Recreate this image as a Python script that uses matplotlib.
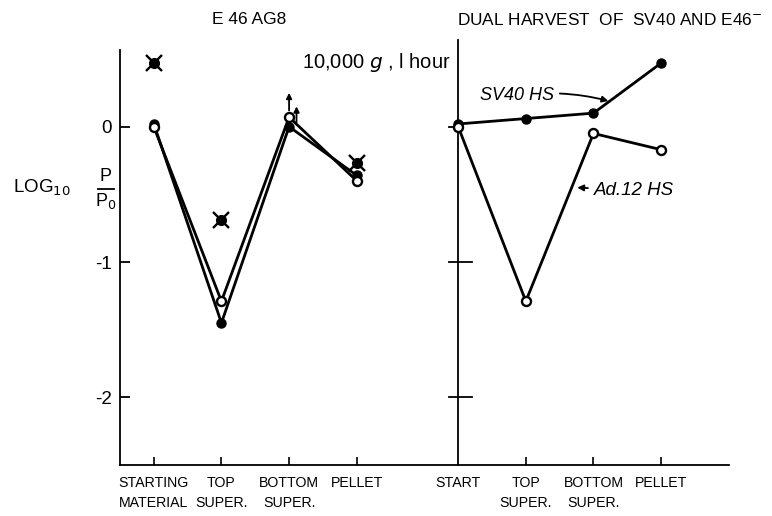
import matplotlib
matplotlib.use("Agg")
import matplotlib.pyplot as plt

# ---- data ----
left_x = [1, 2, 3, 4]
left_labels = ["STARTING\nMATERIAL", "TOP\nSUPER.", "BOTTOM\nSUPER.", "PELLET"]
left_filled = [0.02, -1.45, 0.00, -0.36]
left_open = [0.00, -1.29, 0.07, -0.40]
left_x_marks = [0.47, -0.69, -0.27]
left_x_marks_pos = [1, 2, 4]

right_x = [5.5, 6.5, 7.5, 8.5]
right_labels = ["START", "TOP\nSUPER.", "BOTTOM\nSUPER.", "PELLET"]
sv40_hs = [0.02, 0.06, 0.10, 0.47]
ad12_hs = [0.00, -1.29, -0.05, -0.17]

yticks = [0, -1, -2]
ytick_labels = ["0", "-1", "-2"]

plain = ["Liberation Sans", "DejaVu Sans"]

fig = plt.figure(figsize=(7.72, 5.16), dpi=100)
ax = fig.add_axes([0.1554, 0.0988, 0.944 - 0.1554, 0.925 - 0.0988])
ax.set_xlim(0.5, 9.5)
ax.set_ylim(-2.5, 0.65)

for s in ["top", "right"]:
    ax.spines[s].set_visible(False)
ax.spines["left"].set_bounds(-2.5, 0.57)
ax.spines["left"].set_linewidth(1.3)
ax.spines["bottom"].set_linewidth(1.3)

# middle axis
ax.plot([5.5, 5.5], [-2.5, 0.64], color="black", lw=1.3, clip_on=False, zorder=1)
for yv, l, r in [(0, 0.13, 0.0), (-1, 0.13, 0.2), (-2, 0.13, 0.2)]:
    ax.plot([5.5 - l, 5.5 + r], [yv, yv], color="black", lw=1.3, zorder=1)

ax.set_yticks(yticks)
ax.set_yticklabels(ytick_labels, family=plain, fontsize=13.5)
ax.tick_params(axis="y", direction="in", length=7, width=1.3, pad=6)

ax.set_xticks(left_x + right_x)
ax.set_xticklabels(left_labels + right_labels, family=plain, fontsize=10.2,
                   linespacing=1.5)
ax.tick_params(axis="x", direction="in", length=6, width=1.2, pad=8)
ax.get_xticklines()[8].set_visible(False)
ax.get_xticklines()[9].set_visible(False)

lw = 2.0
# left panel
ax.plot(left_x, left_filled, color="black", lw=lw, marker="o", ms=6.5,
        mfc="black", mec="black", zorder=3)
ax.plot(left_x, left_open, color="black", lw=lw, marker="o", ms=6.5,
        mfc="white", mec="black", mew=1.7, zorder=4)
ax.plot(left_x_marks_pos, left_x_marks, ls="none", marker="o", ms=7,
        mfc="black", mec="black", zorder=5)
ax.plot(left_x_marks_pos, left_x_marks, ls="none", marker="x", ms=11,
        mew=1.7, color="black", zorder=5)

# arrows (lower bounds) at bottom super
ax.annotate("", xy=(3, 0.25), xytext=(3, 0.12),
            arrowprops=dict(arrowstyle="-|>", color="black", lw=1.3,
                            mutation_scale=8, shrinkA=0, shrinkB=0))
ax.annotate("", xy=(3.11, 0.15), xytext=(3.11, 0.03),
            arrowprops=dict(arrowstyle="-|>", color="black", lw=1.3,
                            mutation_scale=8, shrinkA=0, shrinkB=0))

# right panel
ax.plot(right_x, sv40_hs, color="black", lw=lw, marker="o", ms=6.5,
        mfc="black", mec="black", zorder=3)
ax.plot(right_x, ad12_hs, color="black", lw=lw, marker="o", ms=6.5,
        mfc="white", mec="black", mew=1.7, zorder=4)

ax.annotate("SV40 HS", xy=(7.72, 0.19), xytext=(6.92, 0.23),
            fontsize=13, style="italic", family=plain, ha="right", va="center",
            arrowprops=dict(arrowstyle="-|>", color="black", lw=1.3,
                            mutation_scale=9, shrinkA=2, shrinkB=0,
                            connectionstyle="arc3,rad=-0.1"))
ax.annotate("Ad.12 HS", xy=(7.26, -0.45), xytext=(7.5, -0.47),
            fontsize=13.5, style="italic", family=plain, ha="left", va="center",
            arrowprops=dict(arrowstyle="-|>", color="black", lw=1.3,
                            mutation_scale=9, shrinkA=2, shrinkB=0))

# titles / labels
fig.text(249 / 772, 1 - 20 / 516, "E 46 AG8", ha="center", va="center",
         fontsize=12.5, family=plain)
fig.text(302 / 772, 1 - 62 / 516, "10,000 $\\mathit{g}$ , l hour", ha="left",
         va="center", fontsize=14.5, family=plain)
fig.text(457 / 772, 1 - 20 / 516, "DUAL HARVEST  OF  SV40 AND E46$^{-}$",
         ha="left", va="center", fontsize=12.4, family=plain)
fig.text(13 / 772, 1 - 188 / 516, "LOG$_{10}$", ha="left", va="center",
         fontsize=13.5, family=plain)
fig.text(106 / 772, 1 - 177 / 516, "P", ha="center", va="center",
         fontsize=13, family=plain)
fig.text(106 / 772, 1 - 201 / 516, "P$_0$", ha="center", va="center",
         fontsize=13, family=plain)
fig.add_artist(plt.Line2D([98 / 772, 114 / 772], [1 - 189 / 516, 1 - 189 / 516],
                          color="black", lw=1.3))

fig.savefig("out.png", dpi=100)
